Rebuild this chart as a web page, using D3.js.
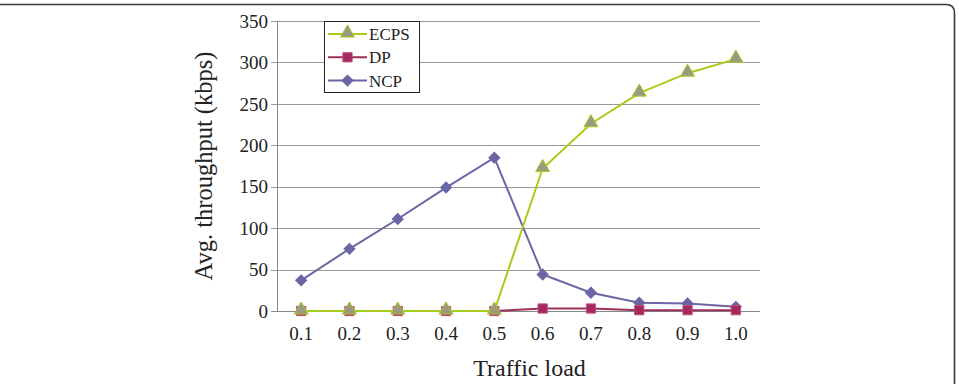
<!DOCTYPE html>
<html>
<head>
<meta charset="utf-8">
<script src="https://cdn.jsdelivr.net/npm/d3@7"></script>
<style>
  body { margin: 0; background: #fff; }
  svg { display: block; font-family: "Liberation Serif", "Times New Roman", serif; }
</style>
</head>
<body>
<svg id="chart" width="959" height="384"></svg>
<script>
'use strict'

var loads = ['0.1', '0.2', '0.3', '0.4', '0.5', '0.6', '0.7', '0.8', '0.9', '1.0']
var ecps = [0, 0, 0, 0, 0, 172, 226, 263, 287, 304]
var dp = [0, 0, 0, 0, 0, 3, 3, 1, 1, 1]
var ncp = [37, 75, 111, 149, 185, 44, 22, 10, 9, 5]
var yTicks = [0, 50, 100, 150, 200, 250, 300, 350]

var series = [
  { name: 'ECPS', values: ecps, line: '#a8cc1c', marker: 'triangle', fill: '#9a9a82', stroke: '#a8cc1c' },
  { name: 'DP', values: dp, line: '#9c2f5c', marker: 'square', fill: '#a3295f', stroke: '#c04c7c' },
  { name: 'NCP', values: ncp, line: '#6a66a6', marker: 'diamond', fill: '#6a66a6', stroke: '#6a66a6' }
]

var svg = d3.select('#chart')
var margin = { left: 277, right: 199, top: 21, bottom: 73 }
var width = 959 - margin.left - margin.right
var height = 384 - margin.top - margin.bottom

// outer frame (figure border, cut off at left and bottom)
svg.append('path')
  .attr('d', 'M0,4.5 H946 Q954.5,4.5 954.5,13 V384')
  .attr('fill', 'none')
  .attr('stroke', '#3a3a3a')
  .attr('stroke-width', 1.6)

var g = svg.append('g').attr('transform', 'translate(' + margin.left + ',' + margin.top + ')')

var x = d3.scaleBand().domain(loads).range([0, width])
var y = d3.scaleLinear().domain([0, 350]).range([height, 0])
var cx = (d) => x(d) + x.bandwidth() / 2

// gridlines
g.append('g')
  .selectAll('line')
  .data(yTicks)
  .enter().append('line')
    .attr('x1', -6)
    .attr('x2', width)
    .attr('y1', (d) => Math.round(y(d)) + 0.5)
    .attr('y2', (d) => Math.round(y(d)) + 0.5)
    .attr('stroke', (d) => d === 0 ? '#888' : '#9a9a9a')
    .attr('stroke-width', 1)

// y axis line
g.append('line')
  .attr('x1', 0.5).attr('x2', 0.5)
  .attr('y1', 0).attr('y2', height)
  .attr('stroke', '#888')

// y tick labels
g.append('g')
  .selectAll('text')
  .data(yTicks)
  .enter().append('text')
    .attr('x', -9)
    .attr('y', (d) => y(d))
    .attr('dy', '0.35em')
    .attr('text-anchor', 'end')
    .attr('font-size', 19)
    .attr('fill', '#222')
    .text((d) => d)

// x tick labels
g.append('g')
  .selectAll('text')
  .data(loads)
  .enter().append('text')
    .attr('x', (d) => cx(d))
    .attr('y', height + 29)
    .attr('text-anchor', 'middle')
    .attr('font-size', 19)
    .attr('fill', '#222')
    .text((d) => d)

// axis titles
g.append('text')
  .attr('x', width / 2 + 11)
  .attr('y', height + 65)
  .attr('text-anchor', 'middle')
  .attr('font-size', 24)
  .attr('fill', '#222')
  .text('Traffic load')

g.append('text')
  .attr('transform', 'translate(-65,' + (height / 2) + ') rotate(-90)')
  .attr('text-anchor', 'middle')
  .attr('font-size', 24.5)
  .attr('fill', '#222')
  .text('Avg. throughput (kbps)')

var symbolFor = {
  triangle: d3.symbol().type(d3.symbolTriangle).size(85),
  square: d3.symbol().type(d3.symbolSquare).size(85),
  diamond: d3.symbol().type(d3.symbolSquare).size(60)
}
var rot = (m) => m === 'diamond' ? ' rotate(45)' : ''

var line = d3.line()
  .x((d, i) => cx(loads[i]))
  .y((d) => y(d))

// draw in order NCP, DP, ECPS so ECPS stays on top at zero
series.slice().reverse().forEach(function (s) {
  g.append('path')
    .datum(s.values)
    .attr('d', line)
    .attr('fill', 'none')
    .attr('stroke', s.line)
    .attr('stroke-width', 2)

  g.append('g')
    .selectAll('path')
    .data(s.values)
    .enter().append('path')
      .attr('transform', (d, i) => 'translate(' + cx(loads[i]) + ',' + (y(d) + (s.marker === 'triangle' ? -1 : 0)) + ')' + rot(s.marker))
      .attr('d', symbolFor[s.marker]())
      .attr('fill', s.fill)
      .attr('stroke', s.stroke)
      .attr('stroke-width', 1)
})

// legend
var legend = svg.append('g').attr('transform', 'translate(324,21)')
legend.append('rect')
  .attr('x', 0.5).attr('y', 0.5)
  .attr('width', 95).attr('height', 71)
  .attr('fill', '#fff')
  .attr('stroke', '#222')
  .attr('stroke-width', 1)

var item = legend.selectAll('g.item')
  .data(series)
  .enter().append('g')
    .attr('class', 'item')
    .attr('transform', (d, i) => 'translate(0,' + (13 + i * 23.3) + ')')

item.append('line')
  .attr('x1', 4).attr('x2', 43)
  .attr('stroke', (d) => d.line)
  .attr('stroke-width', 2)

item.append('path')
  .attr('transform', (d) => 'translate(23.5,' + (d.marker === 'triangle' ? -1 : 0) + ')' + rot(d.marker))
  .attr('d', (d) => symbolFor[d.marker]())
  .attr('fill', (d) => d.fill)
  .attr('stroke', (d) => d.stroke)

item.append('text')
  .attr('x', 45)
  .attr('dy', '0.35em')
  .attr('font-size', 17)
  .attr('fill', '#222')
  .text((d) => d.name)
</script>
</body>
</html>
